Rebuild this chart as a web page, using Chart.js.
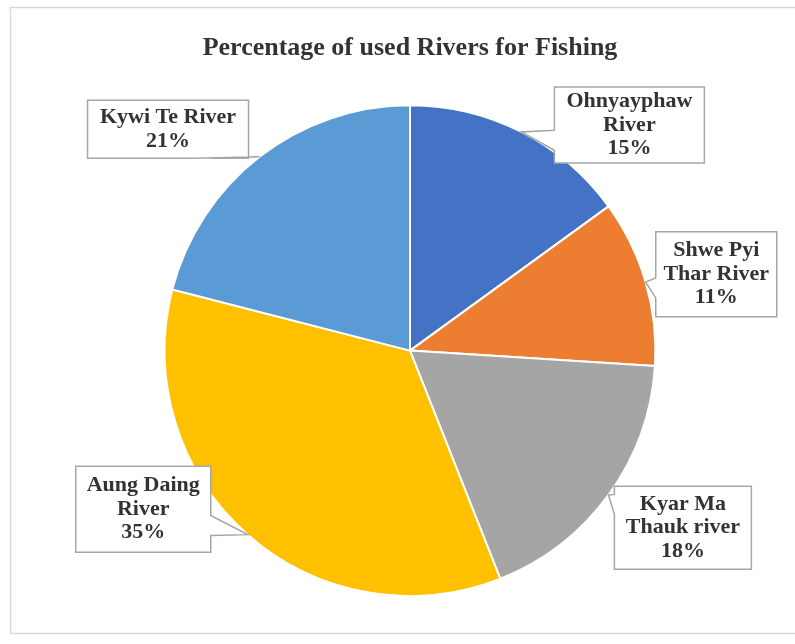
<!DOCTYPE html>
<html>
<head>
<meta charset="utf-8">
<script src="https://cdn.jsdelivr.net/npm/chart.js@4.4.0/dist/chart.umd.min.js"></script>
<style>
html, body { margin: 0; padding: 0; background: #fff; }
#wrap { width: 795px; height: 644px; position: relative; }
</style>
</head>
<body>
<div id="wrap"><canvas id="myChart"></canvas></div>
<script>
// 河流名稱 (每一行一個元素)
var rivers = [['Ohnyayphaw', 'River'], ['Shwe Pyi', 'Thar River'], ['Kyar Ma', 'Thauk river'], ['Aung Daing', 'River'], ['Kywi Te River']];
// 百分比
var percents = [15, 11, 18, 35, 21];
// 顏色
var colors = ['#4472C4', '#ED7D31', '#A5A5A5', '#FFC000', '#5B9BD5'];

// 標註框: 中心相對於圓心 (半徑單位), 尺寸, 尖角所在邊與位置
var callouts = [
    { dx: 0.894, dy: -0.919, w: 150, h: 76, side: 'left', at: 0.70 },
    { dx: 1.248, dy: -0.311, w: 121, h: 85, side: 'left', at: 0.66 },
    { dx: 1.112, dy: 0.722, w: 137, h: 83, side: 'left', at: 0.22 },
    { dx: -1.087, dy: 0.646, w: 135, h: 86, side: 'right', at: 0.69 },
    { dx: -0.986, dy: -0.902, w: 161, h: 58, side: 'bottom', at: 0.72 }
];

// 外框
var frame = {
    id: 'frame',
    beforeDraw: function (c) {
        var ctx = c.ctx;
        ctx.save();
        ctx.strokeStyle = '#d9d9d9';
        ctx.lineWidth = 1.5;
        ctx.strokeRect(10.5, 7.5, 800, 626);
        ctx.restore();
    }
};

// 標註 (callout)
var calloutLabels = {
    id: 'calloutLabels',
    afterDatasetsDraw: function (c) {
        var ctx = c.ctx;
        var meta = c.getDatasetMeta(0);
        meta.data.forEach(function (arc, i) {
            var p = arc.getProps(['x', 'y', 'startAngle', 'endAngle', 'outerRadius'], true);
            var r = p.outerRadius;
            var mid = (p.startAngle + p.endAngle) / 2;
            var ax = p.x + Math.cos(mid) * r;
            var ay = p.y + Math.sin(mid) * r;
            var cfg = callouts[i];
            var cx = p.x + cfg.dx * r, cy = p.y + cfg.dy * r;
            var L = cx - cfg.w / 2, R = cx + cfg.w / 2, T = cy - cfg.h / 2, B = cy + cfg.h / 2;
            var half = 10;
            ctx.save();
            ctx.beginPath();
            ctx.moveTo(L, T);
            ctx.lineTo(R, T);
            if (cfg.side === 'right') {
                var k = T + cfg.at * cfg.h;
                ctx.lineTo(R, k - half); ctx.lineTo(ax, ay); ctx.lineTo(R, k + half);
            }
            ctx.lineTo(R, B);
            if (cfg.side === 'bottom') {
                var k2 = L + cfg.at * cfg.w;
                ctx.lineTo(k2 + half, B); ctx.lineTo(ax, ay); ctx.lineTo(k2 - half, B);
            }
            ctx.lineTo(L, B);
            if (cfg.side === 'left') {
                var k3 = T + cfg.at * cfg.h;
                ctx.lineTo(L, k3 + half); ctx.lineTo(ax, ay); ctx.lineTo(L, k3 - half);
            }
            ctx.closePath();
            ctx.fillStyle = '#ffffff';
            ctx.fill();
            ctx.strokeStyle = '#a6a6a6';
            ctx.lineWidth = 1.5;
            ctx.stroke();

            var lines = rivers[i].concat([percents[i] + '%']);
            var lh = 23.5;
            ctx.fillStyle = '#333333';
            ctx.font = 'bold 22px "Liberation Serif", "Times New Roman", serif';
            ctx.textAlign = 'center';
            ctx.textBaseline = 'middle';
            var y0 = cy - (lines.length - 1) * lh / 2;
            lines.forEach(function (t, j) {
                ctx.fillText(t, cx, y0 + j * lh);
            });
            ctx.restore();
        });
    }
};

var chart = document.querySelector('#myChart');
var myChart = new Chart(chart, {
    type: 'pie',
    data: {
        labels: rivers,
        datasets: [{
            data: percents,
            backgroundColor: colors,
            borderColor: '#ffffff',
            borderWidth: 2
        }]
    },
    options: {
        responsive: true,
        maintainAspectRatio: false,
        animation: false,
        layout: {
            padding: { top: 33, left: 150, right: 125, bottom: 47 }
        },
        plugins: {
            legend: { display: false },
            tooltip: { enabled: false },
            title: {
                display: true,
                text: 'Percentage of used Rivers for Fishing',
                color: '#333333',
                font: { family: '"Liberation Serif", "Times New Roman", serif', size: 26, weight: 'bold' },
                padding: { top: 0, bottom: 40 }
            }
        }
    },
    plugins: [frame, calloutLabels]
});
</script>
</body>
</html>
